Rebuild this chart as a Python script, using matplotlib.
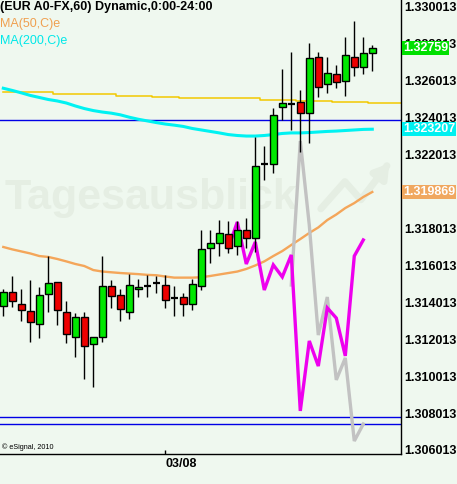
import matplotlib
matplotlib.use('Agg')
import matplotlib.pyplot as plt
from matplotlib.patches import Rectangle

# ---------------- data (EUR A0-FX, 60 min) ----------------
opens  = [1.31381, 1.31457, 1.31392, 1.31354, 1.31284, 1.31446, 1.31511, 1.31349, 1.31214, 1.31322,
          1.31176, 1.31214, 1.31490, 1.31441, 1.31349, 1.31473, 1.31490, 1.31506, 1.31495, 1.31425,
          1.31430, 1.31392, 1.31490, 1.31696, 1.31723, 1.31771, 1.31706, 1.31793, 1.31750, 1.32151,
          1.32151, 1.32459, 1.32476, 1.32487, 1.32427, 1.32730, 1.32584, 1.32638, 1.32600, 1.32730,
          1.32676, 1.32752]
highs  = [1.31473, 1.31544, 1.31473, 1.31522, 1.31484, 1.31652, 1.31511, 1.31409, 1.31344, 1.31349,
          1.31214, 1.31652, 1.31522, 1.31473, 1.31555, 1.31528, 1.31549, 1.31544, 1.31549, 1.31490,
          1.31452, 1.31528, 1.31793, 1.31793, 1.31847, 1.31842, 1.31842, 1.31858, 1.32297, 1.32248,
          1.32454, 1.32665, 1.32757, 1.32552, 1.32806, 1.32757, 1.32730, 1.32687, 1.32839, 1.32925,
          1.32839, 1.32795]
lows   = [1.31327, 1.31376, 1.31300, 1.31186, 1.31208, 1.31349, 1.31279, 1.31181, 1.31105, 1.30986,
          1.30943, 1.31186, 1.31371, 1.31300, 1.31311, 1.31430, 1.31430, 1.31452, 1.31371, 1.31327,
          1.31327, 1.31360, 1.31468, 1.31614, 1.31652, 1.31669, 1.31658, 1.31696, 1.31674, 1.32064,
          1.32102, 1.32389, 1.32335, 1.32216, 1.32264, 1.32514, 1.32535, 1.32562, 1.32519, 1.32627,
          1.32638, 1.32654]
closes = [1.31457, 1.31409, 1.31360, 1.31295, 1.31441, 1.31506, 1.31360, 1.31230, 1.31322, 1.31165,
          1.31214, 1.31490, 1.31436, 1.31365, 1.31495, 1.31484, 1.31490, 1.31506, 1.31414, 1.31425,
          1.31392, 1.31501, 1.31690, 1.31723, 1.31777, 1.31696, 1.31793, 1.31750, 1.32140, 1.32151,
          1.32416, 1.32481, 1.32476, 1.32427, 1.32725, 1.32568, 1.32644, 1.32595, 1.32741, 1.32676,
          1.32752, 1.32779]

ma50 = [1.31701, 1.31688, 1.31677, 1.31666, 1.31652, 1.31647, 1.31636, 1.31623, 1.31609, 1.31598,
        1.31576, 1.31568, 1.31564, 1.31560, 1.31557, 1.31554, 1.31550, 1.31548, 1.31541, 1.31535,
        1.31535, 1.31535, 1.31537, 1.31544, 1.31552, 1.31560, 1.31568, 1.31582, 1.31601, 1.31623,
        1.31652, 1.31679, 1.31712, 1.31744, 1.31777, 1.31807, 1.31847, 1.31877, 1.31912, 1.31939,
        1.31972, 1.31999]
ma200 = [1.32561, 1.32549, 1.32536, 1.32522, 1.32511, 1.32500, 1.32492, 1.32481, 1.32465, 1.32451,
         1.32440, 1.32432, 1.32426, 1.32417, 1.32404, 1.32393, 1.32384, 1.32375, 1.32367, 1.32361,
         1.32354, 1.32343, 1.32335, 1.32327, 1.32319, 1.32310, 1.32305, 1.32302, 1.32302, 1.32305,
         1.32310, 1.32316, 1.32319, 1.32319, 1.32321, 1.32324, 1.32327, 1.32329, 1.32332, 1.32335,
         1.32338, 1.32339]
yellow_ma = [1.32539, 1.32539, 1.32539, 1.32539, 1.32539, 1.32539, 1.32531, 1.32531, 1.32531, 1.32528,
             1.32528, 1.32528, 1.32528, 1.32519, 1.32519, 1.32519, 1.32519, 1.32514, 1.32514, 1.32514,
             1.32508, 1.32508, 1.32508, 1.32508, 1.32508, 1.32508, 1.32508, 1.32508, 1.32508, 1.32497,
             1.32497, 1.32497, 1.32497, 1.32492, 1.32492, 1.32492, 1.32492, 1.32487, 1.32487, 1.32487,
             1.32487, 1.32481]

magenta_start = 25
magenta_vals = [1.31696, 1.31836, 1.31609, 1.31728, 1.31468, 1.31604, 1.31539, 1.31658, 1.30813,
                1.31192, 1.31056, 1.31371, 1.31316, 1.31111, 1.31652, 1.31739]
gray_start = 32
gray_vals = [1.31495, 1.32275, 1.31820, 1.31224, 1.31430, 1.30981, 1.31100, 1.30650, 1.30742]

hlines_blue = [1.32389, 1.30780, 1.30742]

ytick_labels = ['1.330013', '1.328013', '1.326013', '1.324013', '1.322013',
                '1.318013', '1.316013', '1.314013', '1.312013', '1.310013', '1.308013', '1.306013']
xtick_index = [18]
xtick_labels = ['03/08']

last_label = '1.32759'
ma200_label = '1.323207'
ma50_label = '1.319869'

# ---------------- figure ----------------
FONT = 'Liberation Sans'
W, H = 457, 484
bg = '#eff8ef'
fig = plt.figure(figsize=(W / 100, H / 100), dpi=100)
fig.patch.set_facecolor(bg)
ax = fig.add_axes([0, 30 / H, 401 / W, 454 / H])
ax.set_facecolor(bg)
ax.set_xlim(-0.367, 44.19)
ax.set_ylim(1.305796, 1.330390)

for s in ['top', 'left']:
    ax.spines[s].set_visible(False)
for s in ['right', 'bottom']:
    ax.spines[s].set_color('black')
    ax.spines[s].set_linewidth(1.0)

# watermark
wm = '#e5eee3'
ax.text(0.012, 0.54, 'Tagesausblick', transform=ax.transAxes, fontsize=31,
        fontweight='bold', family=FONT, color=wm, ha='left', va='baseline', zorder=0)
ax.plot([0.80, 0.86, 0.90, 0.965], [0.54, 0.60, 0.56, 0.635], transform=ax.transAxes,
        color=wm, lw=5, zorder=0, solid_capstyle='round')
ax.annotate('', xy=(0.975, 0.645), xytext=(0.94, 0.605), xycoords='axes fraction',
            arrowprops=dict(arrowstyle='-|>,head_width=0.5,head_length=0.8', color=wm, lw=5),
            zorder=0)

n = len(opens)
xs = list(range(n))

# horizontal reference lines
for v in hlines_blue:
    ax.axhline(v, color='#0000e6', lw=1.0, zorder=2)

# moving averages
ax.plot(xs + [44.19], yellow_ma + [yellow_ma[-1]], color='#f2c800', lw=1.1, zorder=2,
        drawstyle='steps-mid')
ax.plot(xs, ma200, color='#00f2f2', lw=2.2, zorder=2)
ax.plot(xs, ma50, color='#f4a65a', lw=1.7, zorder=2)

# projection lines
ax.plot(range(gray_start, gray_start + len(gray_vals)), gray_vals, color='#c2c2c2', lw=2.4,
        zorder=3, solid_joinstyle='miter')
ax.plot(range(magenta_start, magenta_start + len(magenta_vals)), magenta_vals, color='#ee00ee',
        lw=2.4, zorder=4, solid_joinstyle='miter')

# candles
bw = 0.74
for i in xs:
    o, h, l, c = opens[i], highs[i], lows[i], closes[i]
    ax.vlines(i, l, h, color='black', lw=1.0, zorder=5)
    if abs(c - o) < 1e-6:
        ax.hlines(o, i - bw / 2, i + bw / 2, color='black', lw=1.6, zorder=6)
    else:
        col = '#00e800' if c > o else '#ee0000'
        ax.add_patch(Rectangle((i - bw / 2, min(o, c)), bw, abs(c - o), facecolor=col,
                               edgecolor='black', lw=1.0, zorder=6))

# axes ticks
ax.yaxis.tick_right()
ax.set_yticks([float(t) for t in ytick_labels])
ax.set_yticklabels(ytick_labels, fontsize=9, fontweight='bold', family=FONT)
ax.tick_params(axis='y', length=0, pad=2)
ax.set_xticks(xtick_index)
ax.set_xticklabels(xtick_labels, fontsize=9, fontweight='bold', family=FONT, ha='left')
ax.tick_params(axis='x', direction='in', length=3, width=1, pad=3)

# value labels on the right
def value_box(y, txt, col):
    ax.text(1.005, y, txt, transform=ax.get_yaxis_transform(), fontsize=9, fontweight='bold',
            family=FONT, color='white', ha='left', va='center', zorder=10, clip_on=False,
            bbox=dict(boxstyle='square,pad=0.06', facecolor=col, edgecolor='none'))

value_box(closes[-1], last_label, '#00e000')
value_box(ma200[-1], ma200_label, '#00f0f0')
value_box(ma50[-1], ma50_label, '#f0a860')

# texts
fig.text(0 / W, 1 - 7 / H, '(EUR A0-FX,60) Dynamic,0:00-24:00', fontsize=9, fontweight='bold',
         family=FONT, color='black', ha='left', va='center')
fig.text(0 / W, 1 - 24 / H, 'MA(50,C)e', fontsize=9, family=FONT, color='#f0a050',
         ha='left', va='center')
fig.text(0 / W, 1 - 41 / H, 'MA(200,C)e', fontsize=9, family=FONT, color='#00e8e8',
         ha='left', va='center')
fig.text(2 / W, 1 - 447 / H, '\u00a9 eSignal, 2010', fontsize=5.2, family=FONT, color='black',
         ha='left', va='center')

fig.savefig('out.png', dpi=100, facecolor=bg)
